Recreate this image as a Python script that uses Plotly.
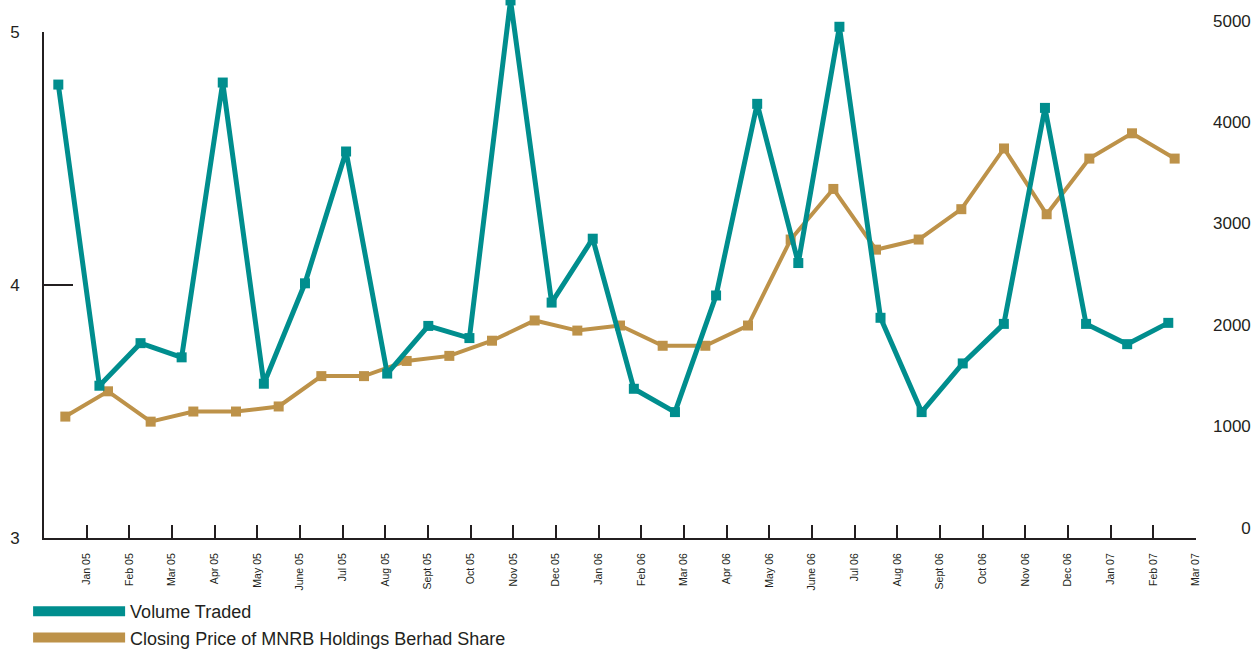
import plotly.graph_objects as go

# ---- data ----
month_labels = ["Jan 05", "Feb 05", "Mar 05", "Apr 05", "May 05", "June 05", "Jul 05",
                "Aug 05", "Sept 05", "Oct 05", "Nov 05", "Dec 05", "Jan 06", "Feb 06",
                "Mar 06", "Apr 06", "May 06", "June 06", "Jul 06", "Aug 06", "Sept 06",
                "Oct 06", "Nov 06", "Dec 06", "Jan 07", "Feb 07", "Mar 07"]

closing_price = [3.48, 3.58, 3.46, 3.50, 3.50, 3.52, 3.64, 3.64, 3.70, 3.72, 3.78, 3.86,
                 3.82, 3.84, 3.76, 3.76, 3.84, 4.18, 4.38, 4.14, 4.18, 4.30, 4.54, 4.28,
                 4.50, 4.60, 4.50]

volume_traded = [4370, 1400, 1820, 1680, 4390, 1420, 2410, 3710, 1520, 1990, 1870, 5200,
                 2220, 2850, 1370, 1140, 2290, 4180, 2610, 4940, 2070, 1140, 1620, 2010,
                 4140, 2010, 1810, 2020]

price_ticks = [3, 4, 5]
volume_ticks = [0, 1000, 2000, 3000, 4000, 5000]

# ---- styling ----
TEAL = "#008E8E"
GOLD = "#BD9249"
INK = "#231F20"
FONT = "Liberation Sans, Arial, Helvetica, sans-serif"

tick_pos = list(range(len(month_labels)))
price_x = [i - 0.5 for i in range(len(closing_price))]
volume_x = list(range(len(volume_traded)))

fig = go.Figure()

# legend-only entries
fig.add_trace(go.Scatter(x=[None], y=[None], mode="lines", name="Volume Traded",
                         line=dict(color=TEAL, width=11), xaxis="x2", yaxis="y2"))
fig.add_trace(go.Scatter(x=[None], y=[None], mode="lines",
                         name="Closing Price of MNRB Holdings Berhad Share",
                         line=dict(color=GOLD, width=10)))

fig.add_trace(go.Scatter(x=price_x, y=closing_price, mode="lines+markers",
                         line=dict(color=GOLD, width=4),
                         marker=dict(symbol="square", size=10, color=GOLD, line=dict(width=0)),
                         showlegend=False, xaxis="x", yaxis="y"))
fig.add_trace(go.Scatter(x=volume_x, y=volume_traded, mode="lines+markers",
                         line=dict(color=TEAL, width=5),
                         marker=dict(symbol="square", size=10, color=TEAL, line=dict(width=0)),
                         showlegend=False, xaxis="x2", yaxis="y2", cliponaxis=False))

fig.update_layout(
    width=1260, height=652,
    margin=dict(l=44, r=64, t=0, b=114, autoexpand=False),
    paper_bgcolor="white", plot_bgcolor="rgba(0,0,0,0)",
    font=dict(family=FONT, color=INK),
    xaxis=dict(domain=[0, 1], range=[-1, 26], tickmode="array", tickvals=tick_pos,
               ticktext=month_labels, tickangle=-90, ticks="inside", ticklen=13,
               tickwidth=2, tickcolor=INK, showline=True, linecolor=INK, linewidth=2,
               showgrid=False, zeroline=False, tickfont=dict(size=10.5, color=INK),
               ticklabelstandoff=9, anchor="y", automargin=False),
    yaxis=dict(domain=[0, 0.9403], range=[3, 5], tickmode="array", tickvals=price_ticks,
               ticks="inside", ticklen=29, tickwidth=2, tickcolor=INK, showline=True,
               linecolor=INK, linewidth=2, showgrid=False, zeroline=False,
               tickfont=dict(size=17, color=INK), ticklabelstandoff=19, anchor="x",
               automargin=False),
    xaxis2=dict(domain=[0, 1], range=[-0.348, 27.674], visible=False, anchor="y2"),
    yaxis2=dict(domain=[0, 1], range=[-101.6, 5204], side="right", anchor="x2",
                tickmode="array", tickvals=volume_ticks,
                ticktext=[f"{v:>4d}".replace(" ", "\u2007") for v in volume_ticks],
                showline=False, showgrid=False, zeroline=False, ticks="",
                tickfont=dict(size=17, color=INK), ticklabelstandoff=16, automargin=False),
    legend=dict(x=-0.0138, y=-0.1022, xanchor="left", yanchor="top", orientation="v",
                itemwidth=92, font=dict(size=18, color=INK), bgcolor="rgba(0,0,0,0)",
                tracegroupgap=0, itemclick=False),
    showlegend=True,
    hovermode=False,
)

fig.write_html("out.html",
               config={"displayModeBar": False, "staticPlot": False},
               post_script="document.body.style.margin='0';document.body.style.overflow='hidden';")
